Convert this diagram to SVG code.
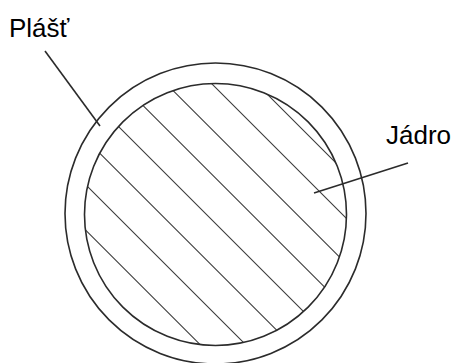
<svg xmlns="http://www.w3.org/2000/svg" width="454" height="363" viewBox="0 0 454 363">
<style>
.ring{fill:none;stroke:#2b2b2b;stroke-width:1.6}
.hatch{stroke:#3a3a3a;stroke-width:1.1}
.lead{stroke:#2b2b2b;stroke-width:1.6}
.lbl{font-family:"Liberation Sans",Arial,sans-serif;font-size:26px;fill:#000}
</style>
<defs>
<clipPath id="core"><circle cx="215.5" cy="214.5" r="131"/></clipPath>
</defs>
<rect width="454" height="363" fill="#fff"/>
<g id="plast">
<circle class="ring" cx="215.5" cy="213.5" r="150.5"/>
</g>
<g id="jadro">
<g clip-path="url(#core)">
<line class="hatch" x1="0" y1="-173" x2="500" y2="327"/>
<line class="hatch" x1="0" y1="-128" x2="500" y2="372"/>
<line class="hatch" x1="0" y1="-82.5" x2="500" y2="417.5"/>
<line class="hatch" x1="0" y1="-37.5" x2="500" y2="462.5"/>
<line class="hatch" x1="0" y1="8" x2="500" y2="508"/>
<line class="hatch" x1="0" y1="53.5" x2="500" y2="553.5"/>
<line class="hatch" x1="0" y1="99" x2="500" y2="599"/>
<line class="hatch" x1="0" y1="144.5" x2="500" y2="644.5"/>
</g>
<circle class="ring" cx="215.5" cy="214.5" r="131"/>
</g>
<g id="connectors">
<line class="lead" x1="45" y1="51" x2="100" y2="126"/>
<line class="lead" x1="314" y1="193" x2="408" y2="163"/>
</g>
<g id="label-plast"><text class="lbl" x="9" y="37">Plášť</text></g>
<g id="label-jadro"><text class="lbl" x="386" y="144">Jádro</text></g>
</svg>
